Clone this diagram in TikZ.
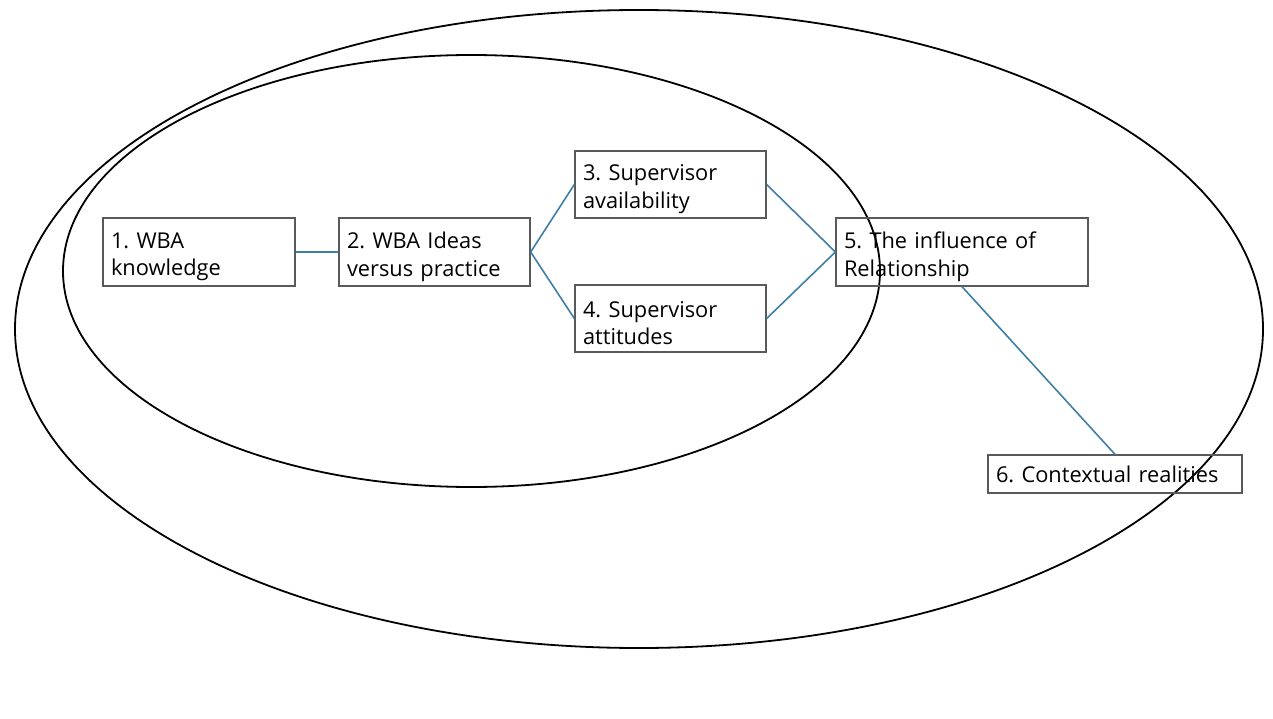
\documentclass[tikz,border=0pt]{standalone}
\usepackage{fontspec}
\setmainfont{Open Sans}
\frenchspacing
\definecolor{linkblue}{HTML}{3E7FA6}
\definecolor{boxgray}{HTML}{5A5A5A}
\newcommand{\boxlines}[2]{\raisebox{-10pt}[0pt][0pt]{\parbox{#1}{#2}}}
\begin{document}
\begin{tikzpicture}[x=1pt,y=-1pt,
  boxnode/.style={draw=boxgray, line width=1.3pt, rectangle, inner xsep=8pt, inner ysep=0pt,
    align=left, font=\fontsize{21.8}{27.5}\selectfont, anchor=center},
  link/.style={draw=linkblue, line width=1.6pt},
  ring/.style={draw=black, line width=1.8pt}]
\useasboundingbox (0,0) rectangle (1273,719);
\draw[ring] (639,329) ellipse [x radius=624, y radius=319];
\draw[ring] (471.5,271) ellipse [x radius=408.5, y radius=216];
\node[boxnode, minimum width=192pt, minimum height=68pt, text width=176pt] (b1) at (199,252) {\boxlines{176pt}{1. WBA\\knowledge}};
\node[boxnode, minimum width=191pt, minimum height=68pt, text width=175pt] (b2) at (434.5,252) {\boxlines{175pt}{2. WBA Ideas\\versus practice}};
\node[boxnode, minimum width=191pt, minimum height=67pt, text width=175pt] (b3) at (670.5,184.5) {\boxlines{175pt}{3. Supervisor\\availability}};
\node[boxnode, minimum width=191pt, minimum height=67pt, text width=175pt] (b4) at (670.5,318.5) {\boxlines{175pt}{4. Supervisor\\attitudes}};
\node[boxnode, minimum width=252pt, minimum height=68pt, text width=236pt] (b5) at (962,252) {\boxlines{236pt}{5. The influence of\\Relationship}};
\node[boxnode, minimum width=254pt, minimum height=38pt, text width=238pt] (b6) at (1115,474) {6. Contextual realities};
\draw[link] (b1.east) -- (b2.west);
\draw[link] (b2.east) -- (b3.west);
\draw[link] (b2.east) -- (b4.west);
\draw[link] (b3.east) -- (b5.west);
\draw[link] (b4.east) -- (b5.west);
\draw[link] (b5.south) -- (b6.north);
\end{tikzpicture}
\end{document}
